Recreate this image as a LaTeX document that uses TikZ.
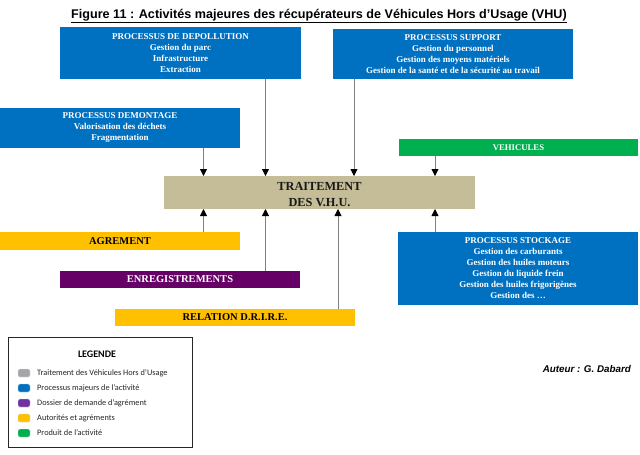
\documentclass[tikz,border=0pt]{standalone}
\usepackage{fontspec}
\setmainfont{Liberation Serif}
\newfontfamily\sansf{Liberation Sans}
\newfontfamily\calf{Carlito}
\usetikzlibrary{arrows.meta}
\definecolor{vblue}{HTML}{0070C0}
\definecolor{vtan}{HTML}{C4BD97}
\definecolor{vpurple}{HTML}{660066}
\definecolor{vyellow}{HTML}{FFC000}
\definecolor{vgreen}{HTML}{00B050}
\definecolor{lgrey}{HTML}{A5A5A5}
\definecolor{lpurple}{HTML}{7030A0}
\definecolor{arrgrey}{HTML}{808080}
\begin{document}
\begin{tikzpicture}[x=1pt,y=-1pt,
  box/.style={inner sep=0pt, outer sep=0pt, align=center, font=\bfseries\fontsize{9}{11}\selectfont},
  bluebox/.style={box, fill=vblue, text=white},
  barbox/.style={box, font=\bfseries\fontsize{10.5}{12}\selectfont},
  arr/.style={draw=arrgrey, line width=0.8pt, -{Triangle[length=7pt,width=7pt,color=black]}},
  swatch/.style={rounded corners=1.5pt, minimum width=12pt, minimum height=8pt, inner sep=0pt, draw=white!70!gray, line width=0.4pt},
  legtext/.style={anchor=west, inner sep=0pt, text=black!85, font=\calf\fontsize{8.3}{10}\selectfont}]
\useasboundingbox (0,0) rectangle (640,455);
\fill[white] (0,0) rectangle (640,455);

% title
\node[anchor=base, inner sep=0pt, font=\sansf\bfseries\fontsize{12.6}{14}\selectfont] (title) at (319,18.5)
  {\underline{Figure 11 : Activités majeures des récupérateurs de Véhicules Hors d’Usage (VHU)}};

% boxes
\node[bluebox, minimum width=241pt, minimum height=52pt] (depol) at (180.5,53)
  {PROCESSUS DE DEPOLLUTION\\Gestion du parc\\Infrastructure\\Extraction};
\node[bluebox, minimum width=240pt, minimum height=50pt] (support) at (453,54)
  {PROCESSUS SUPPORT\\Gestion du personnel\\Gestion des moyens matériels\\Gestion de la santé et de la sécurité au travail};
\node[bluebox, minimum width=240pt, minimum height=40pt] (demont) at (120,128)
  {PROCESSUS DEMONTAGE\\Valorisation des déchets\\Fragmentation};
\node[box, fill=vgreen, text=white, font=\bfseries\fontsize{8.7}{10}\selectfont, minimum width=239pt, minimum height=17pt] (vehic) at (518.5,147.5)
  {VEHICULES};
\node[box, fill=vtan, minimum width=311pt, minimum height=33pt] (trait) at (319.5,192.5) {};
\node[box, text=black!90, font=\bfseries\fontsize{12.3}{16.5}\selectfont] (traitlbl) at ([yshift=-2pt]trait.center)
  {TRAITEMENT\\DES V.H.U.};
\node[barbox, fill=vyellow, text=black, minimum width=240pt, minimum height=18pt] (agrem) at (120,241)
  {AGREMENT};
\node[barbox, fill=vpurple, text=white, minimum width=240pt, minimum height=17pt] (enreg) at (180,279.5)
  {ENREGISTREMENTS};
\node[barbox, fill=vyellow, text=black, minimum width=240pt, minimum height=17pt] (relat) at (235,317.5)
  {RELATION D.R.I.R.E.};
\node[bluebox, minimum width=240pt, minimum height=73pt] (stock) at (518,268.5)
  {PROCESSUS STOCKAGE\\Gestion des carburants\\Gestion des huiles moteurs\\Gestion du liquide frein\\Gestion des huiles frigorigènes\\Gestion des \dots};

% arrow columns
\coordinate (ca) at (203.5,0);
\coordinate (cb) at (265.5,0);
\coordinate (cc) at (354,0);
\coordinate (cd) at (338,0);
\coordinate (ce) at (435,0);

\draw[arr] (demont.south -| ca) -- (trait.north -| ca);
\draw[arr] (depol.south -| cb) -- (trait.north -| cb);
\draw[arr] (support.south -| cc) -- (trait.north -| cc);
\draw[arr] (vehic.south -| ce) -- (trait.north -| ce);
\draw[arr] (agrem.north -| ca) -- (trait.south -| ca);
\draw[arr] (enreg.north -| cb) -- (trait.south -| cb);
\draw[arr] (relat.north -| cd) -- (trait.south -| cd);
\draw[arr] (stock.north -| ce) -- (trait.south -| ce);

% legend
\node[draw=black!85, line width=0.8pt, minimum width=184pt, minimum height=110pt, inner sep=0pt] (legend) at (100,392) {};
\node[inner sep=0pt, font=\calf\bfseries\fontsize{10}{12}\selectfont] (legtitle) at (97,354) {LEGENDE};
\node[swatch, fill=lgrey, draw=blue!15!white] (sw1) at (24,373) {};
\node[swatch, fill=vblue] (sw2) at (24,388) {};
\node[swatch, fill=lpurple] (sw3) at (24,403) {};
\node[swatch, fill=vyellow] (sw4) at (24,418) {};
\node[swatch, fill=vgreen] (sw5) at (24,433) {};
\node[legtext] (lt1) at (37,373) {Traitement des Véhicules Hors d’Usage};
\node[legtext] (lt2) at (37,388) {Processus majeurs de l’activité};
\node[legtext] (lt3) at (37,403) {Dossier de demande d’agrément};
\node[legtext] (lt4) at (37,418) {Autorités et agréments};
\node[legtext] (lt5) at (37,433) {Produit de l’activité};

% author
\node[anchor=base east, inner sep=0pt, font=\sansf\bfseries\itshape\fontsize{9.8}{11}\selectfont] (auteur) at (631,372) {Auteur : G. Dabard};
\end{tikzpicture}
\end{document}
